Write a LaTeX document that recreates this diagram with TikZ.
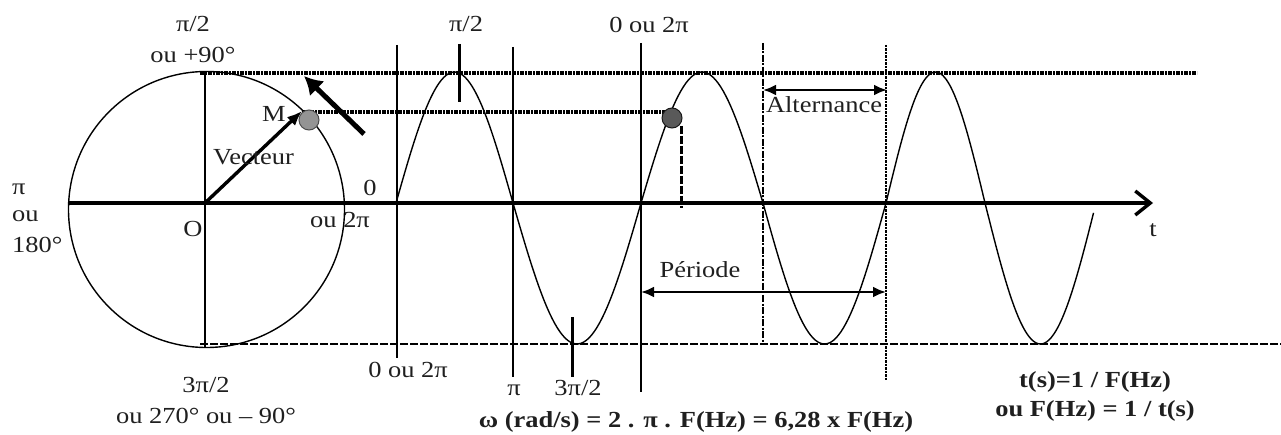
\documentclass[tikz,border=0pt]{standalone}
\usepackage{fontspec}
\setmainfont{Liberation Serif}[FakeStretch=1.15]
\usetikzlibrary{arrows.meta}
\begin{document}
\begin{tikzpicture}[x=1pt,y=-1pt,
  lbl/.style={font=\fontsize{23}{27}\selectfont, inner sep=0pt, anchor=base, text=black!88},
  lblL/.style={lbl, anchor=base west},
  blbl/.style={lbl, font=\fontsize{23}{27}\selectfont\bfseries},
  thinline/.style={line width=1.4pt},
  vline/.style={line width=1.9pt},
  dotline/.style={line width=3.2pt, dash pattern=on 4pt off 1pt on 2pt off 1pt},
  dashline/.style={line width=2.6pt, dash pattern=on 8pt off 2pt},
  dashvert/.style={line width=2.8pt, dash pattern=on 7pt off 1.5pt on 2pt off 1.5pt},
  ticks/.style={line width=3pt},
  dimarrow/.style={line width=2.4pt, {Latex[length=13pt,width=11pt]}-{Latex[length=13pt,width=11pt]}},
  axisarrow/.style={line width=3.4pt, -{Straight Barb[length=15pt,width=24pt]}},
  dotM/.style={fill=black!42, draw=black!70, line width=1pt},
  dotS/.style={fill=black!65, draw=black!90, line width=1pt}
]
\useasboundingbox (0,0) rectangle (1281,435);

% circle and its axes
\node[circle, draw, thinline, minimum size=276pt, inner sep=0pt] (circ) at (206.5,209.5) {};
\coordinate (O) at (205,203);
\coordinate (ctop) at (205,72);
\coordinate (cbot) at (205,347);
\draw[vline] (ctop) -- (cbot);

% sine wave
\foreach \a/\b/\A/\e in {396/513/-131/180, 513/641/141/180, 641/763/-131/180, 763/886/141/180, 886/985/-131/180, 985/1096/141/176}{
  \draw[thinline] plot[domain=0:\e, samples=50] ({\a+(\b-\a)/180*\x},{203+\A*sin(\x)});
}

% horizontal reference lines
\coordinate (tl) at (200,73);   \coordinate (tr) at (1197,73);
\coordinate (bl) at (200,344);  \coordinate (br) at (1281,344);
\coordinate (ml) at (302,112);  \coordinate (mr) at (668,112);
\draw[dotline] (tl) -- (tr);
\draw[dashline] (bl) -- (br);
\draw[dotline] (ml) -- (mr);

% vertical lines
\coordinate (v1t) at (397,45);  \coordinate (v1b) at (397,358);
\coordinate (v2t) at (513,47);  \coordinate (v2b) at (513,377);
\coordinate (v3t) at (641,43);  \coordinate (v3b) at (641,392);
\coordinate (v4t) at (763,43);  \coordinate (v4b) at (763,345);
\coordinate (v5t) at (886,45);  \coordinate (v5b) at (886,380);
\draw[vline] (v1t) -- (v1b);
\draw[vline] (v2t) -- (v2b);
\draw[vline] (v3t) -- (v3b);
\draw[dashvert] (v4t) -- (v4b);
\draw[line width=2.8pt, dash pattern=on 2.5pt off 1pt] (v5t) -- (v5b);
\coordinate (p2t) at (459,44);  \coordinate (p2b) at (459,102);
\draw[ticks] (p2t) -- (p2b);
\coordinate (p3t) at (572,317); \coordinate (p3b) at (572,377);
\draw[ticks] (p3t) -- (p3b);
\coordinate (pdt) at (681,126); \coordinate (pdb) at (681,208);
\draw[line width=3pt, dash pattern=on 8pt off 2pt] (pdt) -- (pdb);

% time axis
\coordinate (ax0) at (68,203);
\coordinate (ax1) at (1153,203);
\draw[axisarrow] (ax0) -- (ax1);

% rotating vector and M
\node[circle, dotM, minimum size=20pt, inner sep=0pt] (Mdot) at (309,120) {};
\coordinate (Mv) at (302,111);
\draw[line width=3.4pt, -{Latex[length=15pt,width=12pt]}] (O) -- (Mv);
\coordinate (r0) at (364,134);
\coordinate (r1) at (304,76);
\draw[line width=5pt, -{Latex[length=18pt,width=21pt]}] (r0) -- (r1);
\node[circle, dotS, minimum size=20pt, inner sep=0pt] (Sdot) at (672,118) {};

% dimension arrows
\coordinate (pa) at (641,292); \coordinate (pb) at (886,292);
\draw[dimarrow] (pa) -- (pb);
\coordinate (aa) at (763,90); \coordinate (ab) at (887,90);
\draw[dimarrow] (aa) -- (ab);

% labels
\node[lbl] (l1) at (193,32) {π/2};
\node[lbl] (l2) at (193,63) {ou +90°};
\node[lbl] (l3) at (466,32) {π/2};
\node[lbl] (l4) at (649,33) {0 ou 2π};
\node[lblL] (l5) at (12,195) {π};
\node[lblL] (l6) at (12,222) {ou};
\node[lblL] (l7) at (12,253) {180°};
\node[lbl] (l8) at (193,237) {O};
\node[lblL] (l9) at (262,122) {M};
\node[lblL] (l10) at (213,165) {Vecteur};
\node[lbl] (l11) at (370,196) {0};
\node[lblL] (l12) at (310,228) {ou 2π};
\node[lbl] (l13) at (206,392) {3π/2};
\node[lbl] (l14) at (206,423) {ou 270° ou – 90°};
\node[lbl] (l15) at (408,377) {0 ou 2π};
\node[lbl] (l16) at (514,395) {π};
\node[lbl] (l17) at (578,395) {3π/2};
\node[blbl] (l18) at (696,427) {ω (rad/s) = 2 . π . F(Hz) = 6,28 x F(Hz)};
\node[lbl] (l19) at (700,278) {Période};
\node[lbl] (l20) at (824,113) {Alternance};
\node[lbl] (l21) at (1153,237) {t};
\node[blbl] (l22) at (1095,387) {t(s)=1 / F(Hz)};
\node[blbl] (l23) at (1095,416) {ou F(Hz) = 1 / t(s)};
\end{tikzpicture}
\end{document}
